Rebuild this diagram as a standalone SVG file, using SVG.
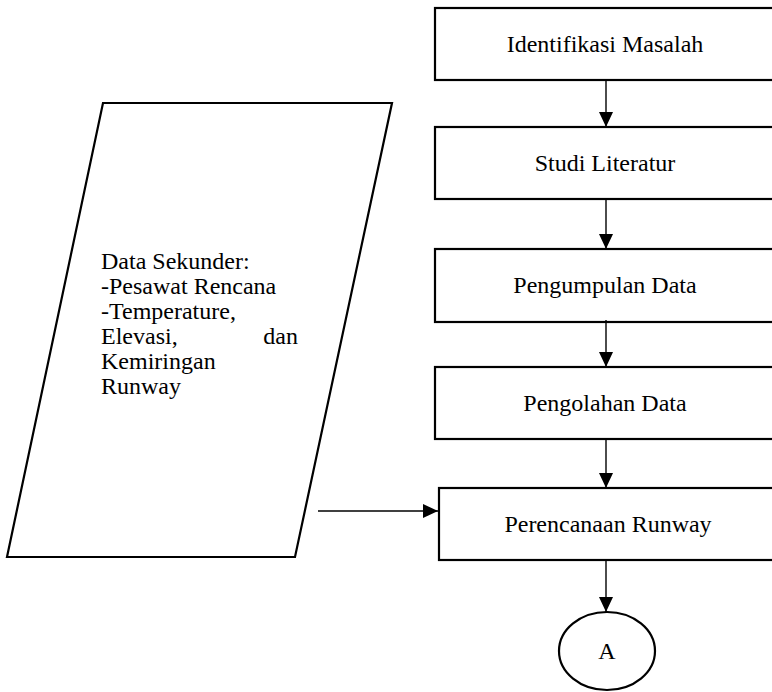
<svg xmlns="http://www.w3.org/2000/svg" width="772" height="692" viewBox="0 0 772 692">
<style>
.box{fill:#fff;stroke:#000;stroke-width:2.2}
.conn{stroke:#000;stroke-width:1.4;fill:none}
text{font-family:"Liberation Serif","Times New Roman",serif;font-size:24px;fill:#000}
.c{text-anchor:middle}
</style>
<defs>
<marker id="ah" markerUnits="userSpaceOnUse" markerWidth="15" markerHeight="14" refX="15" refY="7" orient="auto">
<path d="M0,0 L15,7 L0,14 z" fill="#000"/>
</marker>
</defs>
<rect width="772" height="692" fill="#fff"/>
<g id="data-sekunder">
<polygon class="box" points="103,103 392,103 295,557 7,557"/>
<text x="101" y="269">Data Sekunder:</text>
<text x="101" y="294">-Pesawat Rencana</text>
<text x="101" y="319">-Temperature,</text>
<text x="101" y="344">Elevasi,</text>
<text x="298" y="344" text-anchor="end">dan</text>
<text x="101" y="369">Kemiringan</text>
<text x="101" y="394">Runway</text>
</g>
<g id="identifikasi">
<rect class="box" x="435" y="8" width="345" height="72"/>
<text class="c" x="605" y="52">Identifikasi Masalah</text>
</g>
<g id="studi">
<rect class="box" x="435" y="127" width="345" height="72"/>
<text class="c" x="605" y="171">Studi Literatur</text>
</g>
<g id="pengumpulan">
<rect class="box" x="435" y="249" width="345" height="73"/>
<text class="c" x="605" y="293">Pengumpulan Data</text>
</g>
<g id="pengolahan">
<rect class="box" x="435" y="367" width="345" height="72"/>
<text class="c" x="605" y="411">Pengolahan Data</text>
</g>
<g id="perencanaan">
<rect class="box" x="439" y="488" width="345" height="72"/>
<text class="c" x="608" y="532">Perencanaan Runway</text>
</g>
<g id="konektor-a">
<ellipse class="box" cx="607" cy="651" rx="48" ry="39"/>
<text class="c" x="607" y="659">A</text>
</g>
<g id="connectors">
<line class="conn" x1="606" y1="80" x2="606" y2="127" marker-end="url(#ah)"/>
<line class="conn" x1="606" y1="199" x2="606" y2="249" marker-end="url(#ah)"/>
<line class="conn" x1="606" y1="320" x2="606" y2="367" marker-end="url(#ah)"/>
<line class="conn" x1="606" y1="439" x2="606" y2="488" marker-end="url(#ah)"/>
<line class="conn" x1="606" y1="560" x2="606" y2="612" marker-end="url(#ah)"/>
<line class="conn" x1="318" y1="511" x2="438" y2="511" marker-end="url(#ah)"/>
</g>
</svg>
